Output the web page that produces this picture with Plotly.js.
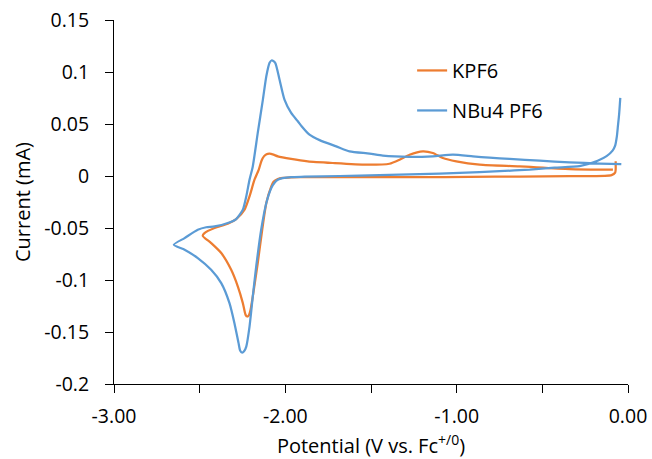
<!DOCTYPE html>
<html>
<head>
<meta charset="utf-8">
<script src="https://cdn.plot.ly/plotly-3.0.1.min.js"></script>
<style>html,body{margin:0;padding:0;background:#fff;}#chart{width:652px;height:459px;}</style>
</head>
<body>
<div id="chart"></div>
<script>
// KPF6 (orange) potential (V vs Fc+/0) and current (mA)
const kpf6Potential = [-0.072,-0.072,-0.075,-0.096,-0.137,-0.341,-0.633,-0.925,-1.217,-1.450,-1.684,-1.917,-1.966,-2.016,-2.044,-2.069,-2.082,-2.111,-2.135,-2.161,-2.184,-2.203,-2.213,-2.222,-2.232,-2.248,-2.277,-2.316,-2.374,-2.433,-2.482,
  -2.472,-2.413,-2.336,-2.287,-2.238,-2.209,-2.180,-2.155,-2.139,-2.124,-2.110,-2.092,-2.069,-2.044,-1.966,-1.869,-1.723,-1.528,-1.392,-1.333,-1.275,-1.197,-1.139,-1.081,-1.002,-0.866,-0.633,-0.341,-0.088];
const kpf6Current = [0.0141,0.0061,0.0032,0.0008,0.0001,-0.0002,-0.0005,-0.0009,-0.0010,-0.0010,-0.0011,-0.0012,-0.0014,-0.0019,-0.0029,-0.0055,-0.0100,-0.0260,-0.0517,-0.0837,-0.1094,-0.1287,-0.1340,-0.1351,-0.1335,-0.1222,-0.1063,-0.0902,-0.0741,-0.0645,-0.0575,
  -0.0549,-0.0500,-0.0459,-0.0414,-0.0324,-0.0196,-0.0036,0.0061,0.0147,0.0191,0.0210,0.0215,0.0205,0.0189,0.0164,0.0141,0.0125,0.0109,0.0118,0.0157,0.0205,0.0237,0.0221,0.0173,0.0141,0.0109,0.0092,0.0067,0.0061];

// NBu4 PF6 (blue)
const nbuPotential = [-0.045,-0.052,-0.059,-0.065,-0.075,-0.090,-0.125,-0.177,-0.283,-0.429,-0.574,-0.750,-0.983,-1.217,-1.450,-1.684,-1.888,-1.966,-2.016,-2.044,-2.063,-2.082,-2.111,-2.141,-2.170,-2.190,-2.209,-2.228,-2.241,-2.252,-2.264,-2.273,-2.297,-2.326,-2.374,-2.433,-2.511,-2.588,-2.651,
  -2.588,-2.511,-2.462,-2.413,-2.336,-2.287,-2.248,-2.228,-2.209,-2.190,-2.161,-2.131,-2.111,-2.092,-2.079,-2.059,-2.034,-2.005,-1.966,-1.927,-1.905,-1.859,-1.800,-1.703,-1.625,-1.508,-1.431,-1.275,-1.139,-1.022,-0.905,-0.808,-0.691,-0.516,-0.341,-0.166,-0.039];
const nbuCurrent = [0.0751,0.0590,0.0477,0.0381,0.0292,0.0244,0.0191,0.0147,0.0094,0.0080,0.0061,0.0046,0.0029,0.0017,0.0008,0.0000,-0.0007,-0.0010,-0.0021,-0.0036,-0.0064,-0.0115,-0.0260,-0.0517,-0.0870,-0.1159,-0.1448,-0.1640,-0.1686,-0.1698,-0.1677,-0.1607,-0.1415,-0.1222,-0.1030,-0.0902,-0.0789,-0.0709,-0.0661,
  -0.0597,-0.0517,-0.0493,-0.0485,-0.0452,-0.0414,-0.0324,-0.0196,-0.0036,0.0092,0.0414,0.0734,0.0959,0.1088,0.1113,0.1088,0.0927,0.0734,0.0606,0.0526,0.0479,0.0397,0.0345,0.0285,0.0237,0.0215,0.0195,0.0183,0.0189,0.0205,0.0189,0.0176,0.0164,0.0147,0.0131,0.0120,0.0115];

const seriesNames = ['KPF6', 'NBu4 PF6'];
const xTickVals = [-3, -2, -1, 0];
const xTickText = ['-3.00', '-2.00', '-1.00', '0.00'];
const yTickVals = [0.15, 0.1, 0.05, 0, -0.05, -0.1, -0.15, -0.2];
const yTickText = ['0.15', '0.1', '0.05', '0', '-0.05', '-0.1', '-0.15', '-0.2'];

const FONT = '"Open Sans", "DejaVu Sans", sans-serif';

const traces = [
  {x: kpf6Potential, y: kpf6Current, name: seriesNames[0], type: 'scatter', mode: 'lines',
   line: {color: '#ED7D31', width: 2.25, shape: 'spline', smoothing: 0.6}, legendgroup: 'a'},
  {x: nbuPotential, y: nbuCurrent, name: seriesNames[1], type: 'scatter', mode: 'lines',
   line: {color: '#5B9BD5', width: 2.25, shape: 'spline', smoothing: 0.6}, legendgroup: 'b'}
];

const layout = {
  width: 652, height: 459,
  margin: {l: 114, r: 24, t: 20, b: 75},
  paper_bgcolor: '#fff', plot_bgcolor: '#fff',
  font: {family: FONT, color: '#000', size: 19},
  showlegend: true,
  legend: {x: 0.58, y: 0.915, xanchor: 'left', yanchor: 'top', bgcolor: 'rgba(0,0,0,0)',
           font: {family: FONT, size: 20, color: '#000'}, traceorder: 'grouped', tracegroupgap: 11},
  xaxis: {
    range: [-3, 0], tickmode: 'array', tickvals: xTickVals, ticktext: xTickText,
    ticks: 'outside', ticklen: 8, tickcolor: '#000', tickwidth: 1, ticklabelstandoff: 7,
    minor: {dtick: 0.5, tick0: 0, ticks: 'outside', ticklen: 8, tickcolor: '#000', tickwidth: 1, showgrid: false},
    showline: true, linecolor: '#000', linewidth: 1, showgrid: false, zeroline: false,
    tickfont: {family: FONT, size: 19.5, color: '#000'},
    title: {text: 'Potential (V vs. Fc<sup>+/0</sup>)', font: {family: FONT, size: 20, color: '#000'}, standoff: 17}
  },
  yaxis: {
    range: [-0.2, 0.15], tickmode: 'array', tickvals: yTickVals, ticktext: yTickText,
    ticks: 'outside', ticklen: 8, tickcolor: '#000', tickwidth: 1, ticklabelstandoff: 12,
    showline: true, linecolor: '#000', linewidth: 1, showgrid: false, zeroline: false,
    tickfont: {family: FONT, size: 19.5, color: '#000'},
    title: {text: 'Current (mA)', font: {family: FONT, size: 20, color: '#000'}, standoff: 8}
  }
};

Plotly.newPlot('chart', traces, layout, {displayModeBar: false, staticPlot: true});
</script>
</body>
</html>
